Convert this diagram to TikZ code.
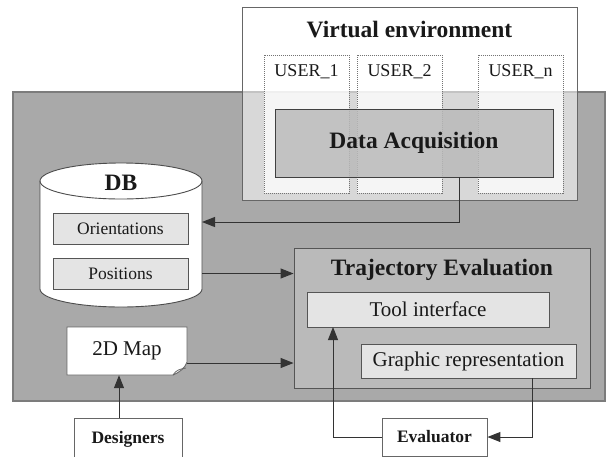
\documentclass[tikz,border=0pt]{standalone}
\usepackage{fontspec}
\setmainfont{Liberation Serif}
\usepackage{tikz}
\usetikzlibrary{arrows.meta,positioning}

\definecolor{panel}{HTML}{A9A9A9}
\definecolor{panelline}{HTML}{7C7C7C}
\definecolor{boxline}{HTML}{555555}
\definecolor{inner}{HTML}{E4E4E4}

\begin{document}
\begin{tikzpicture}[x=1pt, y=-1pt,
	every node/.style={inner sep=0pt, text=black!90},
	plain/.style={rectangle, draw=boxline, line width=0.9pt},
	userbox/.style={rectangle, draw=black!55, densely dotted, line width=1pt, fill=white, fill opacity=0.75, minimum width=85pt, minimum height=138pt},
	head/.style={font=\fontsize{23.5}{26}\selectfont\bfseries},
	small/.style={font=\fontsize{17.5}{20}\selectfont},
	link/.style={draw=black!80, line width=1pt, -{Triangle[length=13pt, width=10pt]}}]
	\useasboundingbox (0,0) rectangle (615,456);
	% gray panel
	\draw[fill=panel, draw=panelline, line width=1.5pt] (13,92) rectangle (605,401);
	% virtual environment
	\node[plain, draw=black!60, fill=white, fill opacity=0.55, minimum width=335pt, minimum height=193pt] (ve) at (409.5,103.5) {};
	\node[head] (vetitle) at (409.5,30) {Virtual environment};
	\node[userbox] (user1) at (306.5,124) {};
	\node[userbox] (user2) at (399.5,124) {};
	\node[userbox] (usern) at (520.5,124) {};
	\node[small, font=\fontsize{18}{20}\selectfont] at (306.5,72) {USER\_1};
	\node[small, font=\fontsize{18}{20}\selectfont] at (399.5,72) {USER\_2};
	\node[small, font=\fontsize{18}{20}\selectfont] at (520.5,72) {USER\_n};
	\node[plain, draw=black!75, fill=black!27, fill opacity=0.85, text opacity=1, minimum width=278pt, minimum height=68pt, head] (da) at (414,143) {Data Acquisition};
	% database
	\node[minimum width=162pt, minimum height=144pt] (db) at (121,235) {};
	\filldraw[fill=white, draw=black!70, line width=0.9pt] (40,181) -- (40,289)
		arc[start angle=180, end angle=360, x radius=81pt, y radius=18pt] -- (202,181)
		arc[start angle=0, end angle=180, x radius=81pt, y radius=18pt] -- cycle;
	\draw[black!70, line width=0.9pt] (40,181) arc[start angle=180, end angle=360, x radius=81pt, y radius=18pt];
	\node[head] (dbtitle) at (121,183) {DB};
	\node[plain, fill=inner, minimum width=135pt, minimum height=31pt, small] (orient) at (120.5,228.5) {Orientations};
	\node[plain, fill=inner, minimum width=135pt, minimum height=31pt, small] (pos) at (120.5,273.5) {Positions};
	% 2D map
	\filldraw[fill=white, draw=black!60, line width=0.9pt] (67,327) -- (187,327) -- (187,362)
		.. controls (185,368) and (180,372) .. (173,375) -- (67,375) -- cycle;
	\draw[black!60, line width=0.8pt] (173,375) .. controls (176,370) and (180,369) .. (186,368);
	\node[font=\fontsize{21}{24}\selectfont, minimum width=120pt, minimum height=48pt] (map) at (127,351) {\raisebox{3pt}{2D Map}};
	% trajectory evaluation
	\node[plain, fill=black!27, minimum width=296pt, minimum height=140pt] (traj) at (442,318) {};
	\node[head] (trajtitle) at (442,270) {Trajectory Evaluation};
	\node[plain, fill=inner, minimum width=242pt, minimum height=35pt, font=\fontsize{21}{24}\selectfont] (tool) at (428,309.5) {Tool interface};
	\node[plain, fill=inner, minimum width=215pt, minimum height=34pt, font=\fontsize{21}{24}\selectfont] (graph) at (468.5,361) {Graphic representation};
	% actors
	\node[plain, draw=black!60, fill=white, minimum width=108pt, minimum height=42pt, small, font=\fontsize{17.5}{20}\selectfont\bfseries] (designers) at (128,439) {\raisebox{2pt}{Designers}};
	\node[plain, draw=black!60, fill=white, minimum width=105pt, minimum height=38pt, small, font=\fontsize{17.5}{20}\selectfont\bfseries] (eval) at (434.5,437) {Evaluator};
	% connectors
	\coordinate (daout) at (459,177);
	\coordinate (dbin) at (202,222);
	\coordinate (mapout) at (187,363);
	\coordinate (desout) at (119,418);
	\coordinate (toolin) at (333,327);
	\coordinate (graphout) at (532,378);
	\draw[link] (daout) |- (dbin);
	\draw[link] (db.east |- pos) -- (traj.west |- pos);
	\draw[link] (mapout) -- (traj.west |- mapout);
	\draw[link] (desout) -- (desout |- map.south);
	\draw[link] (eval.west) -| (toolin);
	\draw[link] (graphout) |- (eval.east);
\end{tikzpicture}
\end{document}
